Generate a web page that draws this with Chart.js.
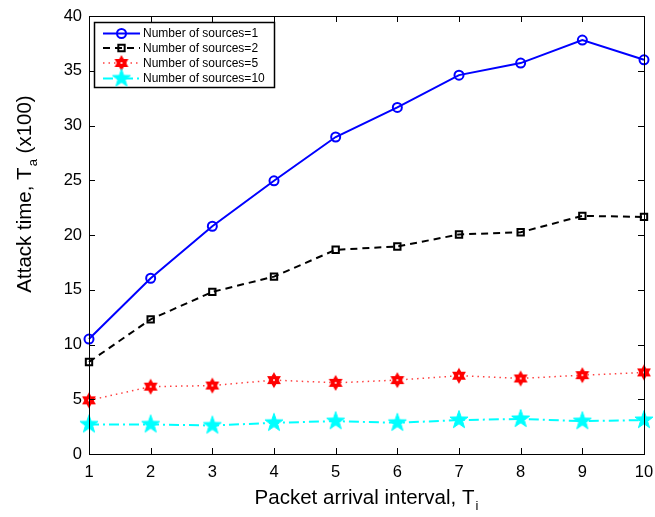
<!DOCTYPE html>
<html><head><meta charset="utf-8">
<script src="https://cdn.jsdelivr.net/npm/chart.js@4.4.1/dist/chart.umd.min.js"></script>
<style>html,body{margin:0;padding:0;background:#fff}#wrap{width:655px;height:517px}</style>
</head><body><div id="wrap"><canvas id="c" width="655" height="517"></canvas></div>
<script>
const xValues = [1,2,3,4,5,6,7,8,9,10];
const sources1 = [10.5,16.05,20.8,24.95,28.95,31.65,34.6,35.7,37.8,36.0];
const sources2 = [8.4,12.3,14.8,16.2,18.65,18.95,20.05,20.25,21.75,21.65];
const sources5 = [4.9,6.15,6.25,6.75,6.5,6.75,7.15,6.9,7.2,7.45];
const sources10 = [2.7,2.7,2.6,2.85,3.0,2.85,3.1,3.2,3.0,3.1];
const seriesLabels = ['Number of sources=1','Number of sources=2','Number of sources=5','Number of sources=10'];
const yTicks = [0,5,10,15,20,25,30,35,40];
const xTitle = ['Packet arrival interval, T','i',''];
const yTitle = ['Attack time, T','a',' (x100)'];

function makeMarker(kind){
  const c=document.createElement('canvas'); c.width=24; c.height=24;
  const g=c.getContext('2d'); const cx=12, cy=12;
  if(kind==='pent'){
    g.beginPath();
    for(let i=0;i<10;i++){const r=i%2?3.8:9.5; const a=-Math.PI/2+i*Math.PI/5; g.lineTo(cx+r*Math.cos(a),cy+r*Math.sin(a));}
    g.closePath(); g.fillStyle='#00ffff'; g.fill(); g.strokeStyle='#00ffff'; g.lineWidth=1; g.stroke();
  } else {
    g.fillStyle='#ff0000'; g.strokeStyle='#ff0000'; g.lineWidth=1.5;
    [0,Math.PI].forEach(off=>{g.beginPath();for(let i=0;i<3;i++){const a=-Math.PI/2+off+i*2*Math.PI/3; g.lineTo(cx+6.5*Math.cos(a),cy+6.5*Math.sin(a));} g.closePath(); g.fill(); g.stroke();});
    g.fillStyle='#fff'; g.beginPath(); g.arc(cx,cy,1,0,2*Math.PI); g.fill();
  }
  return c;
}
const pentImg = makeMarker('pent');
const hexImg = makeMarker('hex');

const toXY = arr => arr.map((v,i)=>({x:xValues[i],y:v}));

const datasets = [
  {label:seriesLabels[0],data:toXY(sources1),borderColor:'#0000ff',borderWidth:2,pointStyle:'circle',pointRadius:4.5,pointBorderWidth:2,pointBorderColor:'#0000ff',pointBackgroundColor:'rgba(0,0,0,0)',borderDash:[],clip:false},
  {label:seriesLabels[1],data:toXY(sources2),borderColor:'#000000',borderWidth:2,pointStyle:'rect',pointRadius:4.5,pointBorderWidth:2,pointBorderColor:'#000',pointBackgroundColor:'rgba(0,0,0,0)',borderDash:[7,5],clip:false},
  {label:seriesLabels[2],data:toXY(sources5),borderColor:'#ff4040',borderWidth:1.5,pointStyle:hexImg,pointRadius:7,borderDash:[1.5,4],clip:false},
  {label:seriesLabels[3],data:toXY(sources10),borderColor:'#00ffff',borderWidth:2,pointStyle:pentImg,pointRadius:9,borderDash:[10,4,2,4],clip:false}
];

const FONT='"Liberation Sans", Arial, Helvetica, sans-serif';

function drawSubText(ctx, parts, x, y, size, rotate){
  ctx.save();
  ctx.translate(x,y); if(rotate) ctx.rotate(-Math.PI/2);
  ctx.fillStyle='#000'; ctx.textBaseline='middle'; ctx.textAlign='left';
  const big=size+'px '+FONT, small=Math.round(size*0.65)+'px '+FONT;
  ctx.font=big; const w0=ctx.measureText(parts[0]).width; const w2=ctx.measureText(parts[2]).width;
  ctx.font=small; const w1=ctx.measureText(parts[1]).width;
  const total=w0+w1+w2+1; let cx=-total/2;
  ctx.font=big; ctx.fillText(parts[0],cx,0); cx+=w0+1;
  ctx.font=small; ctx.fillText(parts[1],cx,size*0.4); cx+=w1;
  ctx.font=big; ctx.fillText(parts[2],cx,0);
  ctx.restore();
}

const framePlugin = {
  id:'frame',
  afterDatasetsDraw(chart){
    const {ctx, chartArea:a, scales} = chart;
    ctx.save();
    ctx.strokeStyle='#000'; ctx.lineWidth=1;
    ctx.strokeRect(Math.round(a.left)+0.5, Math.round(a.top)+0.5, Math.round(a.right-a.left), Math.round(a.bottom-a.top));
    const tl=6;
    ctx.beginPath();
    scales.x.ticks.forEach(t=>{const px=Math.round(scales.x.getPixelForValue(t.value))+0.5; ctx.moveTo(px,a.bottom); ctx.lineTo(px,a.bottom-tl); ctx.moveTo(px,a.top); ctx.lineTo(px,a.top+tl);});
    scales.y.ticks.forEach(t=>{const py=Math.round(scales.y.getPixelForValue(t.value))+0.5; ctx.moveTo(a.left,py); ctx.lineTo(a.left+tl,py); ctx.moveTo(a.right,py); ctx.lineTo(a.right-tl,py);});
    ctx.stroke();
    // legend
    const lx=94.5, ly=22.5, lw=180, lh=65;
    ctx.fillStyle='#fff'; ctx.fillRect(lx,ly,lw,lh);
    ctx.strokeStyle='#000'; ctx.lineWidth=1.5; ctx.strokeRect(lx,ly,lw,lh);
    const rows=[33.5,48,63,78.5];
    chart.data.datasets.forEach((ds,i)=>{
      const y=rows[i];
      ctx.save();
      ctx.strokeStyle=ds.borderColor; ctx.lineWidth=ds.borderWidth; ctx.setLineDash(ds.borderDash||[]);
      ctx.beginPath(); ctx.moveTo(103,y); ctx.lineTo(140,y); ctx.stroke();
      ctx.setLineDash([]);
      ctx.fillStyle='rgba(0,0,0,0)'; ctx.strokeStyle=ds.pointBorderColor||ds.borderColor; ctx.lineWidth=ds.pointBorderWidth||1;
      Chart.helpers.drawPoint(ctx,{pointStyle:ds.pointStyle,radius:ds.pointRadius,borderWidth:ds.pointBorderWidth||1,rotation:0},121.5,y);
      ctx.restore();
      ctx.fillStyle='#000'; ctx.font='12px '+FONT; ctx.textBaseline='middle'; ctx.textAlign='left';
      ctx.fillText(ds.label,143,y+0.5);
    });
    // axis titles
    drawSubText(ctx, xTitle, (a.left+a.right)/2, 498, 20.5, false);
    drawSubText(ctx, yTitle, 25, 194, 20.5, true);
    ctx.restore();
  }
};

new Chart(document.getElementById('c'),{
  type:'line',
  data:{datasets},
  options:{
    responsive:false, animation:false,
    layout:{padding:{top:16,right:11,left:0,bottom:0}},
    plugins:{legend:{display:false},tooltip:{enabled:false}},
    elements:{line:{tension:0}},
    scales:{
      x:{type:'linear',min:1,max:10,
        ticks:{stepSize:1,font:{size:16.5,family:FONT},color:'#000',padding:9,maxRotation:0},
        grid:{display:false,drawTicks:false},border:{display:false},
        afterFit(s){s.height=63; s.paddingLeft=0; s.paddingRight=0;}},
      y:{min:0,max:40,
        afterBuildTicks(s){s.ticks=yTicks.map(v=>({value:v}));},
        ticks:{font:{size:16.5,family:FONT},color:'#000',padding:7},
        grid:{display:false,drawTicks:false},border:{display:false},
        afterFit(s){s.width=89; s.paddingTop=0; s.paddingBottom=0;}}
    }
  },
  plugins:[framePlugin]
});
</script>
</body></html>
